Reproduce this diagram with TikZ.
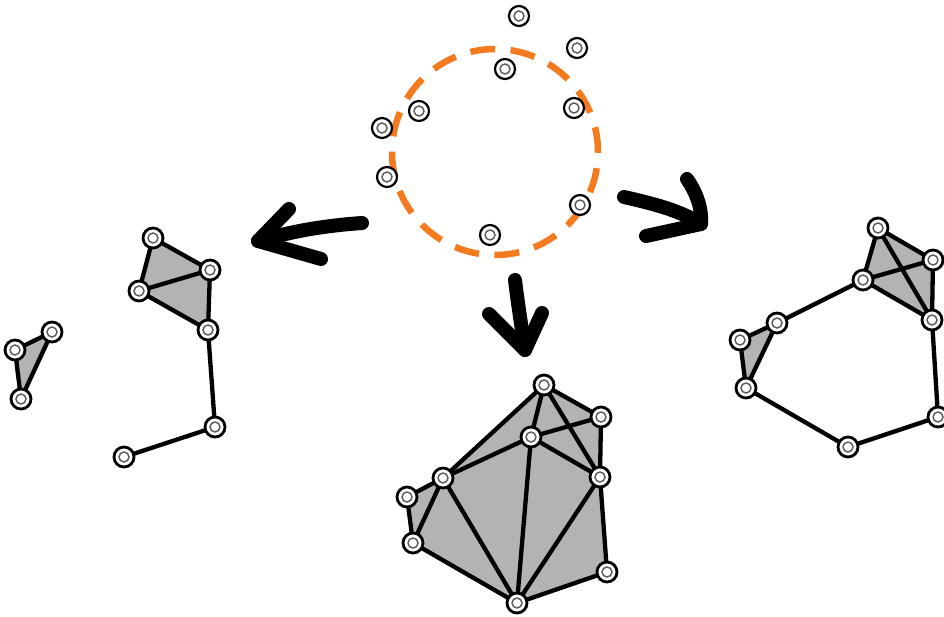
\documentclass[tikz,border=0pt]{standalone}
\pgfdeclarelayer{bg}
\pgfsetlayers{bg,main}
\definecolor{dashorange}{HTML}{F47A20}
\definecolor{cellgray}{HTML}{B3B3B3}
\begin{document}
\begin{tikzpicture}[x=1pt,y=-1pt,
  vtx/.style={circle, draw=black, fill=white, line width=2.8pt, minimum size=20pt, inner sep=0pt,
    path picture={\draw[black!65, line width=1.4pt] (path picture bounding box.center) circle (5pt);}},
  vtxs/.style={vtx, line width=2.2pt},
  edge/.style={line width=4.3pt, line cap=round, line join=round},
  cell/.style={fill=cellgray},
  bigarrow/.style={line width=14pt, line cap=round, line join=round},
  ring/.style={draw=dashorange, line width=6.5pt, dash pattern=on 25pt off 15.4pt}]
\useasboundingbox (0,0) rectangle (944,616);
\clip (0,0) rectangle (944,616);

% dashed circle
\draw[ring] (495,152) circle (103pt);

% point cloud
\node[vtxs] (p1) at (519,16) {};
\node[vtxs] (p2) at (577,48) {};
\node[vtxs] (p3) at (505,69) {};
\node[vtxs] (p4) at (419,111) {};
\node[vtxs] (p5) at (574,108) {};
\node[vtxs] (p6) at (382,128) {};
\node[vtxs] (p7) at (387,177) {};
\node[vtxs] (p8) at (580,205) {};
\node[vtxs] (p9) at (490,235) {};

% arrows
\draw[bigarrow] (362,223) .. controls (320,226) and (290,232) .. (258,241);
\draw[bigarrow] (289,209) -- (258,241) -- (321,259);
\draw[bigarrow] (624,197) .. controls (650,203) and (680,210) .. (701,224);
\draw[bigarrow] (687,179) .. controls (698,195) and (702,210) .. (701,224) -- (646,236);
\draw[bigarrow] (515,280) .. controls (518,305) and (522,330) .. (525,350);
\draw[bigarrow] (489,314) -- (525,350) -- (542,313);

% left complex
\node[vtx] (a1) at (15,350) {};
\node[vtx] (a2) at (52,332) {};
\node[vtx] (a3) at (21,399) {};
\node[vtx] (b1) at (153,238) {};
\node[vtx] (b2) at (210,270) {};
\node[vtx] (b3) at (139,291) {};
\node[vtx] (b4) at (208,330) {};
\node[vtx] (b5) at (215,427) {};
\node[vtx] (b6) at (124,457) {};
\begin{pgfonlayer}{bg}
\fill[cell] (a1.center) -- (a2.center) -- (a3.center) -- cycle;
\fill[cell] (b1.center) -- (b2.center) -- (b4.center) -- (b3.center) -- cycle;
\draw[edge] (a1.center) -- (a2.center) -- (a3.center) -- cycle;
\draw[edge] (b1.center) -- (b2.center) -- (b4.center) -- (b3.center) -- cycle;
\draw[edge] (b3.center) -- (b2.center);
\draw[edge] (b4.center) -- (b5.center) -- (b6.center);
\end{pgfonlayer}

% bottom complex
\node[vtx] (c1) at (544,385) {};
\node[vtx] (c2) at (601,417) {};
\node[vtx] (c3) at (531,437) {};
\node[vtx] (c4) at (443,478) {};
\node[vtx] (c5) at (600,477) {};
\node[vtx] (c6) at (407,497) {};
\node[vtx] (c7) at (413,543) {};
\node[vtx] (c8) at (607,572) {};
\node[vtx] (c9) at (517,603) {};
\begin{pgfonlayer}{bg}
\fill[cell] (c6.center) -- (c4.center) -- (c1.center) -- (c2.center) -- (c5.center) -- (c8.center) -- (c9.center) -- (c7.center) -- cycle;
\draw[edge] (c6.center) -- (c4.center) -- (c1.center) -- (c2.center) -- (c5.center) -- (c8.center) -- (c9.center) -- (c7.center) -- cycle;
\draw[edge] (c1.center) -- (c3.center);
\draw[edge] (c1.center) -- (c5.center);
\draw[edge] (c2.center) -- (c3.center);
\draw[edge] (c3.center) -- (c4.center);
\draw[edge] (c3.center) -- (c5.center);
\draw[edge] (c3.center) -- (c9.center);
\draw[edge] (c4.center) -- (c7.center);
\draw[edge] (c4.center) -- (c9.center);
\draw[edge] (c5.center) -- (c9.center);
\end{pgfonlayer}

% right complex
\node[vtx] (d1) at (878,228) {};
\node[vtx] (d2) at (933,260) {};
\node[vtx] (d3) at (863,280) {};
\node[vtx] (d4) at (932,320) {};
\node[vtx] (d5) at (777,323) {};
\node[vtx] (d6) at (740,340) {};
\node[vtx] (d7) at (746,388) {};
\node[vtx] (d8) at (848,447) {};
\node[vtx] (d9) at (938,417) {};
\begin{pgfonlayer}{bg}
\fill[cell] (d1.center) -- (d2.center) -- (d4.center) -- (d3.center) -- cycle;
\fill[cell] (d5.center) -- (d6.center) -- (d7.center) -- cycle;
\draw[edge] (d1.center) -- (d2.center) -- (d4.center) -- (d3.center) -- cycle;
\draw[edge] (d1.center) -- (d4.center);
\draw[edge] (d2.center) -- (d3.center);
\draw[edge] (d3.center) -- (d5.center);
\draw[edge] (d5.center) -- (d6.center) -- (d7.center) -- cycle;
\draw[edge] (d7.center) -- (d8.center) -- (d9.center) -- (d4.center);
\end{pgfonlayer}
\end{tikzpicture}
\end{document}
